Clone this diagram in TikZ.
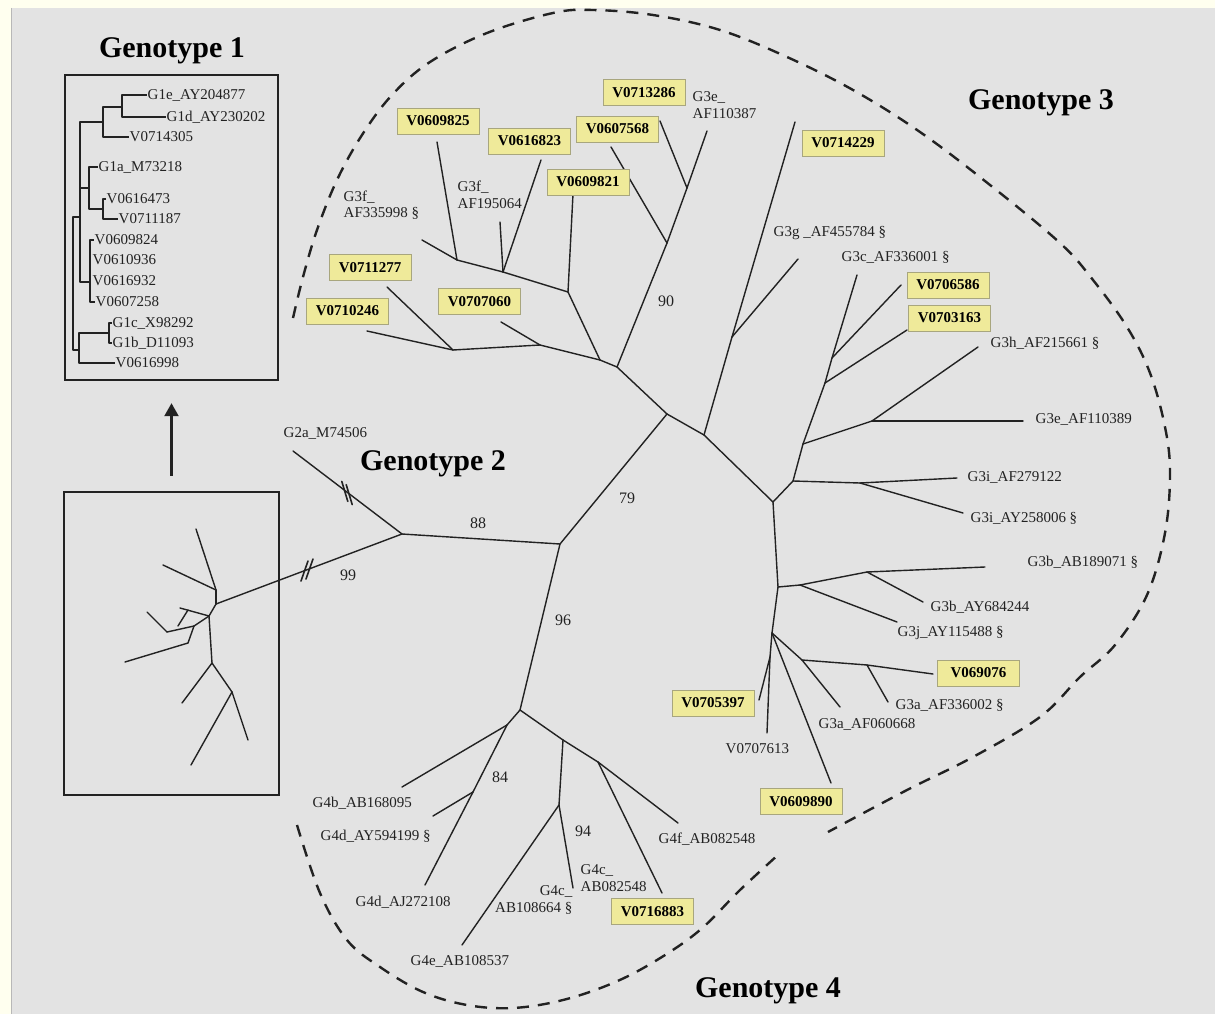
\documentclass[tikz,border=0pt]{standalone}
\usepackage{fontspec}
\setmainfont{Liberation Serif}
\usetikzlibrary{positioning,arrows.meta}

\definecolor{paper}{HTML}{FFFFEF}
\definecolor{panel}{HTML}{E3E3E3}
\definecolor{panelrule}{HTML}{B8B8B8}
\definecolor{hilite}{HTML}{EFEA9A}
\definecolor{hiliterule}{HTML}{A8A67E}
\definecolor{ink}{HTML}{222222}

\tikzset{
  branch/.style={draw=ink, line width=1.4pt, line cap=round, line join=round},
  leaf/.style={font=\fontsize{15}{16.5}\selectfont, text=ink, inner sep=0.5pt, align=left, anchor=west},
  strain/.style={draw=hiliterule, fill=hilite, line width=0.9pt, font=\bfseries\fontsize{15}{16}\selectfont,
    text=black, minimum width=82pt, minimum height=26pt, inner sep=0pt},
  boot/.style={font=\fontsize{16}{16}\selectfont, text=ink, inner sep=0pt},
  gtitle/.style={font=\bfseries\fontsize{30}{30}\selectfont, text=black, inner sep=0pt, anchor=base},
  boxrule/.style={draw=ink, line width=2.4pt, inner sep=0pt},
  clade/.style={draw=ink, line width=2.4pt, dash pattern=on 12pt off 9pt},
  pointer/.style={draw=ink, line width=2.2pt, -{Triangle[length=13pt,width=14pt]}},
}

\begin{document}
\begin{tikzpicture}[x=1pt,y=-1pt]

  %background
  \useasboundingbox (0,0) rectangle (1215,1014);
  \fill[paper] (0,0) rectangle (1215,1014);
  \fill[panel] (11,8) rectangle (1215,1014);
  \draw[panelrule, line width=1pt] (11,8) -- (11,1014);

  %dashed clade outlines
  \draw[clade] plot[smooth, tension=0.6] coordinates {(293,318) (303,277) (317,230) (337,180) (362,135)
    (392,95) (430,62) (487,33) (553,13) (593,10) (653,15) (720,30) (787,57) (853,90) (920,132) (990,185)
    (1060,243) (1093,280) (1127,327) (1150,373) (1165,427) (1170,473) (1165,533) (1147,595) (1115,645)
    (1080,677) (1040,717) (973,757) (907,790) (828,832)};
  \draw[clade] plot[smooth, tension=0.6] coordinates {(297,825) (320,893) (347,940) (380,967) (423,992)
    (467,1005) (513,1008) (563,1000) (613,983) (657,960) (700,930) (740,890) (779,854)};

  % tree points
  \foreach \nm/\px/\py in {
    g2tip/293/451, n2/402/534, g1root/216/604, n3/560/544, n4/667/414, n5/520/710,
    p1/600/360, p2/617/367, q1/667/243, q2/687/188, r1/568/292, r2/503/272, r3/457/260,
    s1/540/345, s2/453/350,
    eG3e1/707/131, eV13286/660/121, eV07568/611/147, eV09821/573/194, eG3f1/422/240,
    eV09825/437/142, eV16823/541/160, eG3f2/500/222, eV07060/501/322, eV11277/387/287, eV10246/367/331,
    t1/704/435, t2/732/337, eV14229/795/122, eG3g/798/259,
    u1/773/502, u2/793/481, u3/803/444, u4/825/383, u5/832/358, v1/872/421, w1/860/483,
    eG3c/857/275, eV06586/901/285, eV03163/907/330, eG3e2/1023/421, eG3h/978/347,
    eG3i1/957/478, eG3i2/963/513,
    x1/778/587, x2/772/633, x3/770/657, y1/800/585, y2/867/572, z1/802/660, z2/867/665,
    eG3b1/985/567, eG3b2/923/602, eG3j/897/622, eV05397/759/700, eV07613/767/733,
    eV69076/933/674, eG3a1/888/702, eG3a2/840/707, eV09890/831/783,
    aa/507/725, ab/473/792, bb/563/740, bc/598/762, bd/559/805,
    eG4b/402/787, eG4d1/433/816, eG4d2/425/885, eG4f/678/823, eV16883/662/893, eG4c/573/888, eG4e/462/945,
    k1/216/590, k1a/196/529, k1b/163/565, k2/209/616, ka/180/608, kb/188/610, kc/178/626,
    kd/194/626, ke/167/632, kf/147/612, kg/188/643, kh/125/662,
    k3/212/663, ki/182/703, k4/232/692, kj/248/740, kk/191/765,
    brk1/347/493, brk2/307/570}
    \coordinate (\nm) at (\px,\py);

  % branches
  \foreach \a/\b in {
    g2tip/n2, n2/g1root, n2/n3, n3/n4, n3/n5,
    n4/p2, p2/p1, p2/q1, q1/q2, q2/eG3e1, q2/eV13286, q1/eV07568,
    p1/r1, r1/eV09821, r1/r2, r2/r3, r3/eG3f1, r3/eV09825, r2/eV16823, r2/eG3f2,
    p1/s1, s1/s2, s1/eV07060, s2/eV11277, s2/eV10246,
    n4/t1, t1/t2, t2/eV14229, t2/eG3g,
    t1/u1, u1/u2, u2/u3, u3/u4, u4/u5, u5/eG3c, u5/eV06586, u4/eV03163,
    u3/v1, v1/eG3e2, v1/eG3h, u2/w1, w1/eG3i1, w1/eG3i2,
    u1/x1, x1/x2, x1/y1, y1/y2, y2/eG3b1, y2/eG3b2, y1/eG3j,
    x2/x3, x3/eV05397, x3/eV07613, x2/z1, z1/z2, z2/eV69076, z2/eG3a1, z1/eG3a2, x2/eV09890,
    n5/aa, aa/eG4b, aa/ab, ab/eG4d1, ab/eG4d2,
    n5/bb, bb/bc, bc/eG4f, bc/eV16883, bb/bd, bd/eG4c, bd/eG4e,
    g1root/k1, k1/k1a, k1/k1b, g1root/k2, k2/ka, kb/kc, k2/kd, kd/ke, ke/kf, kd/kg, kg/kh,
    k2/k3, k3/ki, k3/k4, k4/kj, k4/kk}
    \draw[branch] (\a) -- (\b);

  % long-branch breaks
  \foreach \s in {-1,1} {
    \draw[branch, line width=1.6pt, shift={(brk1)}] (-3+2.2*\s,-10+1.6*\s) -- (3+2.2*\s,10+1.6*\s);
    \draw[branch, line width=1.6pt, shift={(brk2)}] (-3.5+2.5*\s,10-1*\s) -- (3.5+2.5*\s,-10-1*\s);
  }

  % bootstrap values
  \node[boot] (b90) at (666,301) {90};
  \node[boot] (b88) at (478,523) {88};
  \node[boot] (b79) at (627,498) {79};
  \node[boot] (b99) at (348,575) {99};
  \node[boot] (b96) at (563,620) {96};
  \node[boot] (b84) at (500,777) {84};
  \node[boot] (b94) at (583,831) {94};

  % reference sequences
  \node[leaf] (lG3f1) at (343,205) {G3f\_\\AF335998 §};
  \node[leaf] (lG3f2) at (457,195) {G3f\_\\AF195064};
  \node[leaf] (lG3e1) at (692,105) {G3e\_\\AF110387};
  \node[leaf] (lG3g) at (773,233) {G3g \_AF455784 §};
  \node[leaf] (lG3c) at (841,257) {G3c\_AF336001 §};
  \node[leaf] (lG3h) at (990,343) {G3h\_AF215661 §};
  \node[leaf] (lG3e2) at (1035,419) {G3e\_AF110389};
  \node[leaf] (lG3i1) at (967,477) {G3i\_AF279122};
  \node[leaf] (lG3i2) at (970,518) {G3i\_AY258006 §};
  \node[leaf] (lG3b1) at (1027,562) {G3b\_AB189071 §};
  \node[leaf] (lG3b2) at (930,607) {G3b\_AY684244};
  \node[leaf] (lG3j) at (897,633) {G3j\_AY115488 §};
  \node[leaf] (lG3a1) at (895,705) {G3a\_AF336002 §};
  \node[leaf] (lG3a2) at (818,724) {G3a\_AF060668};
  \node[leaf] (lV07613) at (725,749) {V0707613};
  \node[leaf] (lG2a) at (283,433) {G2a\_M74506};
  \node[leaf] (lG4b) at (312,803) {G4b\_AB168095};
  \node[leaf] (lG4d1) at (320,836) {G4d\_AY594199 §};
  \node[leaf] (lG4d2) at (355,902) {G4d\_AJ272108};
  \node[leaf] (lG4e) at (410,961) {G4e\_AB108537};
  \node[leaf] (lG4f) at (658,839) {G4f\_AB082548};
  \node[leaf] (lG4c1) at (580,878) {G4c\_\\AB082548};
  \node[leaf, anchor=east, align=right] (lG4c2) at (573,900) {G4c\_\\AB108664 §};

  % study strains
  \node[strain] (sV09825) at (438,121) {V0609825};
  \node[strain] (sV16823) at (529.5,141) {V0616823};
  \node[strain] (sV13286) at (644,92.5) {V0713286};
  \node[strain] (sV07568) at (617.5,129) {V0607568};
  \node[strain] (sV09821) at (588,182) {V0609821};
  \node[strain] (sV14229) at (843,143) {V0714229};
  \node[strain] (sV11277) at (370,267.5) {V0711277};
  \node[strain] (sV10246) at (347.5,311) {V0710246};
  \node[strain] (sV07060) at (479.5,301.5) {V0707060};
  \node[strain] (sV06586) at (948,285) {V0706586};
  \node[strain] (sV03163) at (949.5,318) {V0703163};
  \node[strain] (sV69076) at (978.5,673) {V069076};
  \node[strain] (sV05397) at (713,703) {V0705397};
  \node[strain] (sV09890) at (801,801.5) {V0609890};
  \node[strain] (sV16883) at (652.5,911.5) {V0716883};

  % genotype titles
  \node[gtitle] (gt1) at (172,58) {Genotype 1};
  \node[gtitle] (gt2) at (433,470) {Genotype 2};
  \node[gtitle] (gt3) at (1041,110) {Genotype 3};
  \node[gtitle] (gt4) at (768,997) {Genotype 4};

  % panels and arrow
  \node[boxrule, minimum width=213pt, minimum height=305pt] (g1panel) at (171.5,227.5) {};
  \node[boxrule, minimum width=215pt, minimum height=303pt] (zoompanel) at (171.5,643.5) {};
  \draw[pointer] ([yshift=15pt]zoompanel.north) -- ([yshift=-22pt]g1panel.south);

  % genotype 1 cladogram
  \node[leaf] (lG1e) at (147,95) {G1e\_AY204877};
  \node[leaf] (lG1d) at (166,117) {G1d\_AY230202};
  \node[leaf] (lV14305) at (129,137) {V0714305};
  \node[leaf] (lG1a) at (98,167) {G1a\_M73218};
  \node[leaf] (lV16473) at (106,199) {V0616473};
  \node[leaf] (lV11187) at (118,219) {V0711187};
  \node[leaf] (lV09824) at (94,240) {V0609824};
  \node[leaf] (lV10936) at (92,260) {V0610936};
  \node[leaf] (lV16932) at (92,281) {V0616932};
  \node[leaf] (lV07258) at (95,302) {V0607258};
  \node[leaf] (lG1c) at (112,323) {G1c\_X98292};
  \node[leaf] (lG1b) at (112,343) {G1b\_D11093};
  \node[leaf] (lV16998) at (115,363) {V0616998};

  \foreach \nm/\px/\py in {cRoot/73/283, cUp/80/217, cLow/79/350, cA/103/122, cA1/122/107,
    cB/89/188, cB1/103/209, cC/90/282, cD/109/333}
    \coordinate (\nm) at (\px,\py);

  \draw[branch, line width=1.2pt, line cap=butt]
    (cRoot) |- (cUp) (cRoot) |- (cLow)
    (cUp) |- (cA) (cUp) |- (cB) (cUp) |- (cC)
    (cA) |- (cA1) (cA) |- (lV14305.west)
    (cA1) |- (lG1e.west) (cA1) |- (lG1d.west)
    (cB) |- (lG1a.west) (cB) |- (cB1)
    (cB1) |- (lV16473.west) (cB1) |- (lV11187.west)
    (cC) |- (lV09824.west) (cC) |- (lV07258.west)
    (cLow) |- (cD) (cLow) |- (lV16998.west)
    (cD) |- (lG1c.west) (cD) |- (lG1b.west);

\end{tikzpicture}
\end{document}
